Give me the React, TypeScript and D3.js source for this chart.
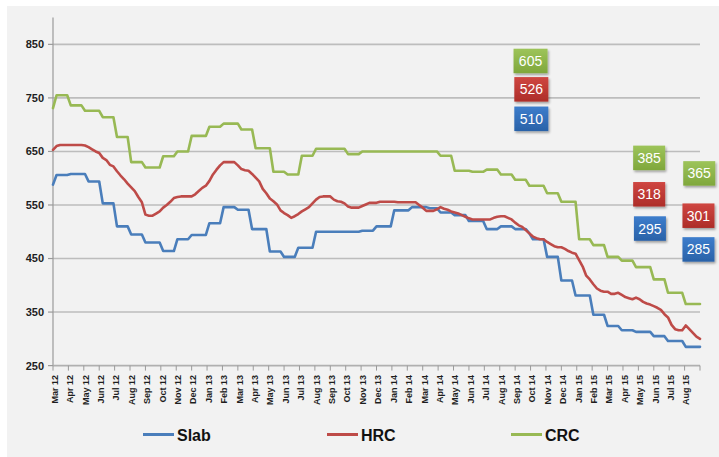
import React from 'react';
import * as d3 from 'd3';

// ---- data ----
const monthLabels = [
  'Mar 12','Apr 12','May 12','Jun 12','Jul 12','Aug 12','Sep 12','Oct 12','Nov 12','Dec 12',
  'Jan 13','Feb 13','Mar 13','Apr 13','May 13','Jun 13','Jul 13','Aug 13','Sep 13','Oct 13','Nov 13','Dec 13',
  'Jan 14','Feb 14','Mar 14','Apr 14','May 14','Jun 14','Jul 14','Aug 14','Sep 14','Oct 14','Nov 14','Dec 14',
  'Jan 15','Feb 15','Mar 15','Apr 15','May 15','Jun 15','Jul 15','Aug 15'
];
const yTicks = [250, 350, 450, 550, 650, 750, 850];

// weekly prices, Mar 2012 – Aug 2015
const slab = [
  588,606,606,606,606,608,608,608,608,608,
  594,594,594,594,553,553,553,553,510,510,
  510,510,495,495,495,495,480,480,480,480,
  480,464,464,464,464,486,486,486,486,494,
  494,494,494,494,516,516,516,516,546,546,
  546,546,541,541,541,541,505,505,505,505,
  505,463,463,463,463,453,453,453,453,470,
  470,470,470,470,500,500,500,500,500,500,
  500,500,500,500,500,500,500,502,502,502,
  502,510,510,510,510,510,540,540,540,540,
  540,546,546,546,546,546,544,544,544,536,
  536,536,536,531,531,531,531,520,520,520,
  520,520,505,505,505,505,510,510,510,510,
  505,505,505,505,497,486,486,486,486,453,
  453,453,453,409,409,409,409,381,381,381,
  381,381,345,345,345,345,324,324,324,324,
  316,316,316,316,313,313,313,313,313,305,
  305,305,305,296,296,296,296,296,285,285,
  285,285,285
];
const hrc = [
  653,660,662,662,662,662,662,662,662,661,
  658,654,650,647,638,634,625,622,613,605,
  598,590,583,576,565,555,532,530,530,534,
  538,545,550,556,563,565,566,566,566,566,
  570,576,582,586,595,607,616,624,630,630,
  630,630,624,617,615,614,608,601,594,580,
  572,562,557,551,540,535,531,526,529,533,
  538,542,546,553,560,565,566,566,566,560,
  557,556,553,547,545,545,545,548,551,554,
  554,554,556,556,556,556,556,555,555,555,
  555,555,555,550,545,539,539,539,542,546,
  543,541,538,536,534,531,528,525,523,523,
  523,523,523,523,526,528,529,529,526,523,
  517,512,509,503,497,491,488,486,486,481,
  477,473,471,471,468,464,461,459,447,435,
  418,411,402,394,390,388,388,384,384,386,
  382,378,376,374,377,374,369,366,364,361,
  358,354,346,340,326,318,316,316,325,318,
  311,304,300
];
const crc = [
  731,755,755,755,755,736,736,736,736,726,
  726,726,726,726,714,714,714,714,677,677,
  677,677,630,630,630,630,620,620,620,620,
  620,641,641,641,641,650,650,650,650,679,
  679,679,679,679,696,696,696,696,702,702,
  702,702,702,691,691,691,691,656,656,656,
  656,656,612,612,612,612,607,607,607,607,
  642,642,642,642,655,655,655,655,655,655,
  655,655,655,645,645,645,645,650,650,650,
  650,650,650,650,650,650,650,650,650,650,
  650,650,650,650,650,650,650,650,650,642,
  642,642,642,614,614,614,614,614,612,612,
  612,612,616,616,616,616,607,607,607,607,
  597,597,597,597,586,586,586,586,586,572,
  572,572,572,556,556,556,556,556,486,486,
  486,486,475,475,475,475,453,453,453,453,
  446,446,446,446,434,434,434,434,434,411,
  411,411,411,386,386,386,386,386,365,365,
  365,365,365
];
const seriesNames = ['Slab', 'HRC', 'CRC'];
const seriesData = [slab, hrc, crc];

// value callouts: label, series index, position in (month, price) units
const calloutText = ['605', '526', '510', '385', '318', '295', '365', '301', '285'];
const calloutSeries = [2, 1, 0, 2, 1, 0, 2, 1, 0];
const calloutMonth = [31.0, 31.05, 31.05, 38.7, 38.7, 38.75, 41.95, 41.9, 41.9];
const calloutLevel = [819, 766, 711, 638, 570, 506, 609, 530, 467];

// ---- styles ----
const W = 719, H = 457;
const colors = ['#4a7ebb', '#be4b48', '#98b954'];
const boxTop = ['#3d7dcc', '#cf4641', '#9dc45a'];
const boxBot = ['#2a62a8', '#ad2d29', '#7fa73c'];
const FONT = '"Liberation Sans", Arial, sans-serif';

export default function App() {
  const x = d3.scaleLinear().domain([0, monthLabels.length]).range([53, 700]);
  const y = d3.scaleLinear().domain([250, 900]).range([365.6, 17.6]);
  const nWeeks = slab.length - 1;
  const wx = (i: number) => x((i * monthLabels.length) / nWeeks);
  const line = d3.line<number>().x((_, i) => wx(i)).y(d => y(d));
  const x0 = x(0), x1 = x(monthLabels.length);
  const tickIdx = d3.range(monthLabels.length + 1);

  return (
    <svg width={W} height={H} style={{ position: 'absolute', left: 0, top: 0 }} fontFamily={FONT}>
      <defs>
        {boxTop.map((c, k) => (
          <linearGradient key={k} id={`g${k}`} x1="0" y1="0" x2="0" y2="1">
            <stop offset="0" stopColor={c} />
            <stop offset="1" stopColor={boxBot[k]} />
          </linearGradient>
        ))}
        <filter id="sh" x="-30%" y="-30%" width="160%" height="170%">
          <feDropShadow dx="1.2" dy="1.8" stdDeviation="1.2" floodColor="#000" floodOpacity="0.35" />
        </filter>
      </defs>
      <rect x={0} y={0} width={W} height={H} fill="#ffffff" />
      <rect x={7} y={6} width={W - 7} height={H - 6} fill="#f2f2f2" />

      {/* gridlines */}
      {yTicks.filter(t => t > 250).map(t => (
        <line key={t} x1={x0} x2={x1} y1={y(t)} y2={y(t)} stroke="#bdbdbd" strokeWidth={1.6} />
      ))}

      {/* y axis */}
      <line x1={x0} x2={x0} y1={y(900)} y2={y(250)} stroke="#9a9a9a" strokeWidth={1.2} />
      {yTicks.map(t => (
        <g key={t}>
          <line x1={x0 - 5} x2={x0} y1={y(t)} y2={y(t)} stroke="#9a9a9a" strokeWidth={1.2} />
          <text x={44} y={y(t)} dy="0.36em" textAnchor="end" fontSize={11} fontWeight="bold" fill="#1e1e1e">{t}</text>
        </g>
      ))}

      {/* x axis */}
      <line x1={x0} x2={x1} y1={y(250)} y2={y(250)} stroke="#b0b0b0" strokeWidth={1.6} />
      {tickIdx.map(i => (
        <line key={i} x1={x(i)} x2={x(i)} y1={y(250)} y2={y(250) + 5} stroke="#9a9a9a" strokeWidth={1} />
      ))}
      {monthLabels.map((m, i) => (
        <text key={m} transform={`translate(${x(i) + 4.8},${375}) rotate(-90)`} textAnchor="end"
          fontSize={9} fontWeight="bold" fill="#1e1e1e">{m}</text>
      ))}

      {/* series */}
      {seriesData.map((d, k) => (
        <path key={k} d={line(d) || ''} fill="none" stroke={colors[k]} strokeWidth={2.6}
          strokeLinejoin="round" strokeLinecap="round" />
      ))}

      {/* callouts */}
      {calloutText.map((t, j) => {
        const cx = x(calloutMonth[j]);
        const cy = y(calloutLevel[j]);
        const w = j < 3 ? 34 : 32, h = 24.5;
        const k = calloutSeries[j];
        return (
          <g key={j}>
            <rect x={cx - w / 2} y={cy - h / 2} width={w} height={h} fill={`url(#g${k})`} filter="url(#sh)" />
            <text x={cx} y={cy} dy="0.36em" textAnchor="middle" fontSize={14} fill="#ffffff">{t}</text>
          </g>
        );
      })}

      {/* legend */}
      {seriesNames.map((n, k) => {
        const lx = [143, 327, 511][k];
        return (
          <g key={n}>
            <line x1={lx} x2={lx + 31} y1={434.5} y2={434.5} stroke={colors[k]} strokeWidth={3} />
            <text x={lx + 34} y={441} fontSize={16} fontWeight="bold" fill="#111">{n}</text>
          </g>
        );
      })}
    </svg>
  );
}
